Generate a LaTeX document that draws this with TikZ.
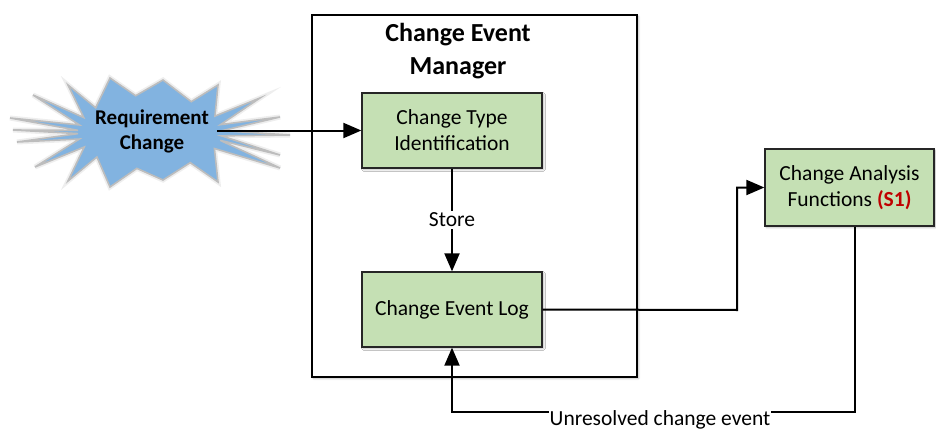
\documentclass[tikz,border=0pt]{standalone}
\usepackage{fontspec}
\setmainfont{Carlito}
\usetikzlibrary{arrows.meta,calc,shadows.blur}
\definecolor{boxgreen}{HTML}{C5E0B4}
\definecolor{burstblue}{HTML}{82B3E0}
\definecolor{burstedge}{HTML}{BDBDBD}
\definecolor{refred}{HTML}{C00000}
\tikzset{
  softshadow/.style={blur shadow={shadow xshift=1.5pt,shadow yshift=-1.5pt,shadow opacity=30,shadow blur steps=4}},
  procbox/.style={draw=black!85, line width=1.3pt, fill=boxgreen, align=center,
    font=\fontsize{21.5}{26}\selectfont, softshadow},
  flow/.style={line width=2pt, -{Triangle[length=18pt,width=15pt]}},
  lbl/.style={fill=white, font=\fontsize{21.5}{26}\selectfont, inner xsep=1pt, inner ysep=2pt},
  burst/.style={fill=burstblue, draw=burstedge, line width=1.6pt, line join=miter},
}
\begin{document}
\begin{tikzpicture}[x=1pt,y=-1pt]
\useasboundingbox (0,0) rectangle (936,433);

% manager frame
\node[draw=black, line width=1.4pt, fill=white, minimum width=325pt, minimum height=362pt,
      softshadow] (mgr) at (474.5,196) {};
\node[align=center, font=\fontsize{26}{33}\selectfont\bfseries] (mgrtitle) at (458,51)
  {Change Event\\Manager};

% starburst for the incoming change: spikes alternate with points on an inner ellipse
\coordinate (sc) at (150,132);
\def\rxy{72 and -37}
\def\burstpath{(110,78) -- ($(sc)+(101.5:\rxy)$) -- (163,80) -- ($(sc)+(55:\rxy)$)
  -- (218,85) -- ($(sc)+(25.5:\rxy)$) -- (260,98) -- ($(sc)+(11.5:\rxy)$)
  -- (280,117) -- ($(sc)+(2:\rxy)$) -- (290,135) -- ($(sc)+(-6:\rxy)$)
  -- (280,155) -- ($(sc)+(-13:\rxy)$) -- (280,168) -- ($(sc)+(-26.5:\rxy)$)
  -- (218,182) -- ($(sc)+(-56:\rxy)$) -- (163,180) -- ($(sc)+(-100.5:\rxy)$)
  -- (110,187) -- ($(sc)+(-137.5:\rxy)$) -- (68,181) -- ($(sc)+(-156:\rxy)$)
  -- (35,167) -- ($(sc)+(-169:\rxy)$) -- (17,142) -- ($(sc)+(-177.5:\rxy)$)
  -- (13,130) -- ($(sc)+(177.5:\rxy)$) -- (10,118) -- ($(sc)+(169:\rxy)$)
  -- (33,95) -- ($(sc)+(157:\rxy)$) -- (68,85) -- ($(sc)+(139:\rxy)$) -- cycle}
\draw[draw=burstedge, line width=5pt, opacity=0.25, line join=miter] \burstpath;
\draw[burst] \burstpath;
\node[align=center, font=\fontsize{21}{25}\selectfont\bfseries, inner xsep=8pt] (rc) at (152,131)
  {Requirement\\Change};

% process boxes
\node[procbox, minimum width=180pt, minimum height=75pt] (b1) at (452,130.5)
  {Change Type\\Identification};
\node[procbox, minimum width=180pt, minimum height=75pt] (b2) at (452,309.5)
  {Change Event Log};
\node[procbox, minimum width=169pt, minimum height=77pt] (b3) at (849.5,187.5)
  {Change Analysis\\Functions \textcolor{refred}{\bfseries(S1)}};

% connectors
\coordinate (jog) at (737,310);
\coordinate (ret) at (855,412);
\draw[flow] (rc.east |- b1.west) -- (b1.west);
\draw[flow] (b1) -- (b2) node[lbl, midway] (store) {Store};
\draw[flow] (b2.east) -- (jog) |- (b3.west);
\draw[flow] (b3.south -| ret) -- (ret) -| (b2.south);
\node[lbl] (unres) at (660,420) {Unresolved change event};
\end{tikzpicture}
\end{document}
